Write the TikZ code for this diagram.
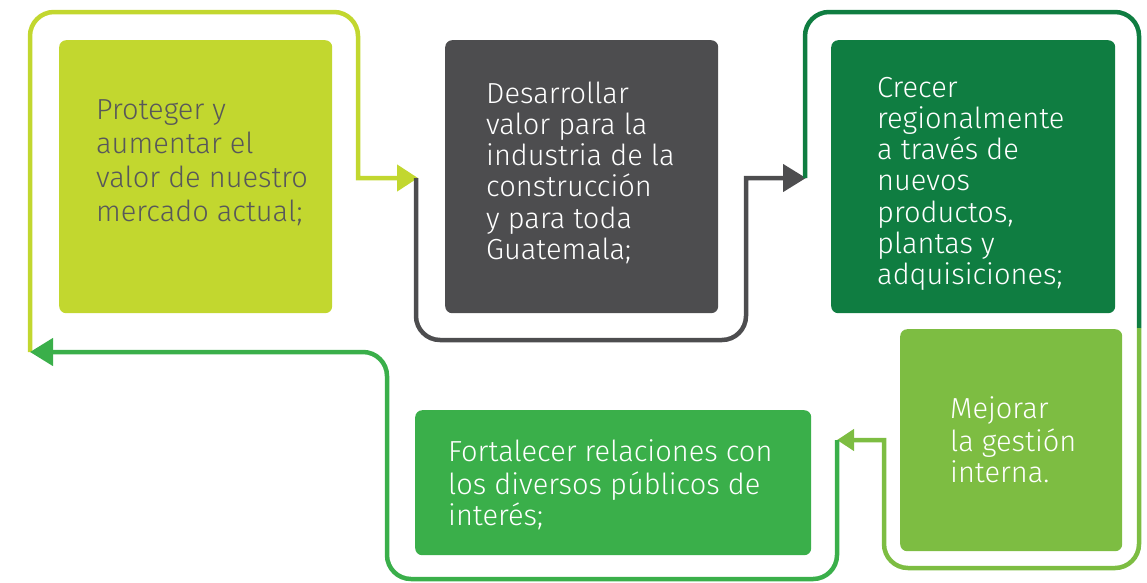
\documentclass[tikz,border=0pt]{standalone}
\usepackage{fontspec}
\IfFontExistsTF{Fira Sans Light}{\setmainfont{Fira Sans Light}}{\setmainfont{Fira Sans}}
\usetikzlibrary{arrows.meta}
\definecolor{cLime}{HTML}{C2D72F}
\definecolor{cDark}{HTML}{4D4D4F}
\definecolor{cDeep}{HTML}{0F7D41}
\definecolor{cLight}{HTML}{7DBD42}
\definecolor{cMid}{HTML}{3AAF4A}
\definecolor{cText}{HTML}{58585A}
\begin{document}
\begin{tikzpicture}[x=1pt,y=-1pt,
  card/.style={rounded corners=7pt, inner sep=0pt, anchor=north west, draw=none},
  label/.style={anchor=north west, inner sep=0pt, align=left, text=white,
                font=\fontsize{29}{31.2}\selectfont},
  loopline/.style={line width=4.5pt},
  tipbig/.style={-{Triangle[length=23pt,width=27pt]}},
  tipsmall/.style={-{Triangle[length=17pt,width=21pt]}}]
\useasboundingbox (0,0) rectangle (1147,582);

% boxes
\node[card, fill=cLime,  minimum width=273pt, minimum height=273pt] (b1) at (59,40) {};
\node[card, fill=cDark,  minimum width=273pt, minimum height=273pt] (b2) at (445,40) {};
\node[card, fill=cDeep,  minimum width=284pt, minimum height=273pt] (b3) at (831,40) {};
\node[card, fill=cLight, minimum width=222pt, minimum height=222pt] (b4) at (900,329) {};
\node[card, fill=cMid,   minimum width=396pt, minimum height=145pt] (b5) at (415,410) {};

% texts
\node[label, text=cText, font=\fontsize{29}{34}\selectfont] (t1) at (96,95.2)
  {\strut Proteger y\\aumentar el\\valor de nuestro\\mercado actual;};
\node[label] (t2) at (486,81.2)
  {\strut Desarrollar\\valor para la\\industria de la\\construcción\\y para toda\\Guatemala;};
\node[label] (t3) at (877,75.2)
  {\strut Crecer\\regionalmente\\a través de\\nuevos\\productos,\\plantas y\\adquisiciones;};
\node[label] (t4) at (950,396.2)
  {\strut Mejorar\\la gestión\\interna.};
\node[label] (t5) at (448,439.2)
  {\strut Fortalecer relaciones con\\los diversos públicos de\\interés;};

% connector end points
\coordinate (pA) at (30,352);
\coordinate (pB) at (418,178);
\coordinate (pC) at (806,178);
\coordinate (pD) at (1139,328);
\coordinate (pE) at (837,440);

% loops
\draw[loopline, cLime, -{Triangle[length=21pt,width=26pt]}]
  (pA) [rounded corners=24pt] -- (pA |- 0,12) -- (358,12) [sharp corners] -- (358,178) -- (pB);
\draw[loopline, cDark, tipbig]
  ([xshift=-2pt]pB) [rounded corners=24pt] -- ([xshift=-2pt]pB |- 0,340) -- (746,340) [sharp corners] -- (746,178) -- (pC);
\draw[loopline, cDeep]
  ([xshift=-1pt]pC) [rounded corners=24pt] -- ([xshift=-1pt]pC |- 0,12) -- (pD |- 0,12) -- (pD);
\draw[loopline, cLight, tipsmall]
  (pD) [rounded corners=24pt] -- (pD |- 0,568) -- (884,568) [sharp corners] -- (884,440) -- (pE);
\draw[loopline, cMid, tipbig]
  (pE) [rounded corners=24pt] -- (pE |- 0,579) -- (387,579) -- (387,352) -- (pA);
\end{tikzpicture}
\end{document}
